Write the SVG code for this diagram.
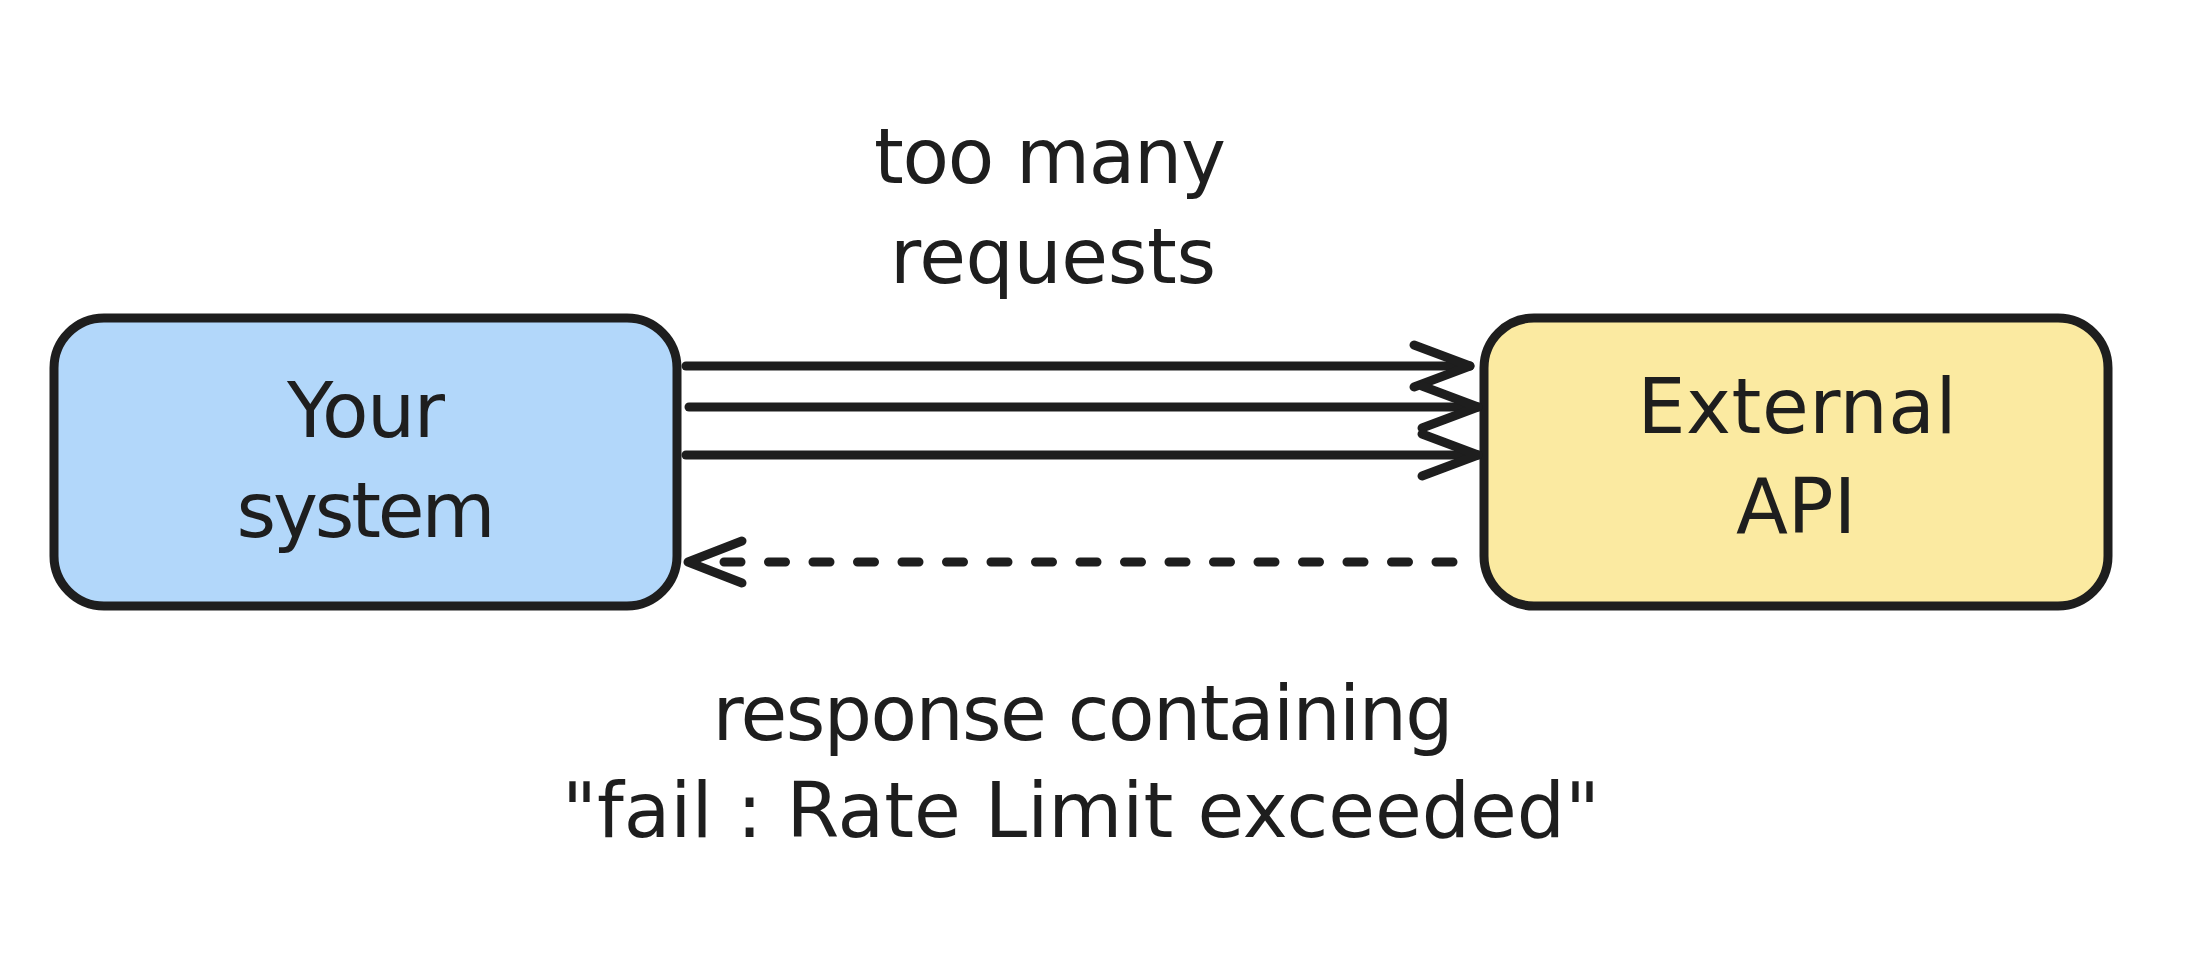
<svg xmlns="http://www.w3.org/2000/svg" width="2210" height="960" viewBox="0 0 2210 960">
  <style>
    .box { stroke: #1e1e1e; stroke-width: 9; stroke-linejoin: round; }
    .edge { fill: none; stroke: #1e1e1e; stroke-width: 9; stroke-linecap: round; stroke-linejoin: round; }
    .dash { stroke-dasharray: 17 27.5; }
    .lbl { font-family: "DejaVu Sans", "Liberation Sans", sans-serif; font-size: 76px; fill: #1e1e1e; text-anchor: middle; }
  </style>
  <defs>
    <marker id="head" markerUnits="userSpaceOnUse" markerWidth="80" markerHeight="60" refX="70" refY="30" orient="auto" overflow="visible">
      <path d="M 14 9 L 70 30 L 14 51" fill="none" stroke="#1e1e1e" stroke-width="9" stroke-linecap="round" stroke-linejoin="round" stroke-dasharray="none"/>
    </marker>
  </defs>
  <rect width="2210" height="960" fill="#ffffff"/>

  <g id="your-system">
    <rect class="box" x="54" y="318" width="623" height="288" rx="50" ry="50" fill="#b2d7fa"/>
    <text class="lbl" x="366" y="437" textLength="158" lengthAdjust="spacing">Your</text>
    <text class="lbl" x="366" y="537" textLength="259" lengthAdjust="spacing">system</text>
  </g>

  <g id="external-api">
    <rect class="box" x="1484" y="318" width="624" height="288" rx="50" ry="50" fill="#fbeaa1"/>
    <text class="lbl" x="1797" y="433" textLength="319" lengthAdjust="spacing">External</text>
    <text class="lbl" x="1796" y="533">API</text>
  </g>

  <g id="connectors">
    <path class="edge" d="M 686 366 L 1470 366" marker-end="url(#head)"/>
    <path class="edge" d="M 689 407 L 1478 407" marker-end="url(#head)"/>
    <path class="edge" d="M 686 455 L 1478 455" marker-end="url(#head)"/>
    <path class="edge dash" d="M 1453 562 L 724 562"/>
    <path class="edge" d="M 742 541 L 688 562 L 742 583"/>
  </g>

  <g id="labels">
    <text class="lbl" x="1050" y="183" textLength="352" lengthAdjust="spacing">too many</text>
    <text class="lbl" x="1053" y="283" textLength="326" lengthAdjust="spacing">requests</text>
    <text class="lbl" x="1083" y="740" textLength="741" lengthAdjust="spacing">response containing</text>
    <text class="lbl" x="1081" y="837" textLength="1038" lengthAdjust="spacing">"fail : Rate Limit exceeded"</text>
  </g>
</svg>
